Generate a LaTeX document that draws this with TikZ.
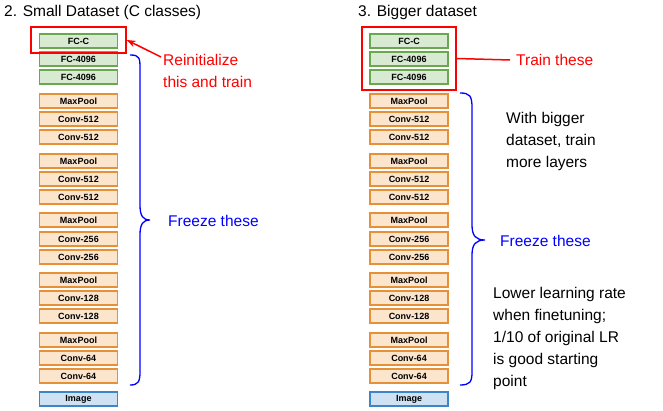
\documentclass[tikz,border=0pt]{standalone}
\usepackage{fontspec}
\setmainfont{Liberation Sans}
\usetikzlibrary{arrows.meta}
\definecolor{gf}{HTML}{D9EAD3}\definecolor{gd}{HTML}{6AA84F}
\definecolor{of}{HTML}{FCE5CD}\definecolor{od}{HTML}{E69138}
\definecolor{bf}{HTML}{CFE2F3}\definecolor{bd}{HTML}{3D85C6}
\begin{document}
\begin{tikzpicture}[x=1pt,y=-1pt,
 lay/.style={draw,line width=1.2pt,minimum width=78pt,minimum height=14pt,inner sep=0pt,font=\bfseries\fontsize{9}{10}\selectfont},
 g/.style={lay,fill=gf,draw=gd},o/.style={lay,fill=of,draw=od},b/.style={lay,fill=bf,draw=bd},
 lbl/.style={font=\fontsize{15.5}{22}\selectfont,align=left,anchor=north west,inner sep=0pt}]
\useasboundingbox (0,0) rectangle (663,411);
\foreach \s/\x in {L/78.5,R/409}{
 \node[g] (\s1) at (\x,41) {FC-C};
 \node[g] (\s2) at (\x,59) {FC-4096};
 \node[g] (\s3) at (\x,77) {FC-4096};
 \foreach \n/\y/\t in {4/101/MaxPool,5/119/Conv-512,6/137/Conv-512,7/161/MaxPool,8/179/Conv-512,9/197/Conv-512,10/220/MaxPool,11/239/Conv-256,12/257/Conv-256,13/280/MaxPool,14/298/Conv-128,15/316/Conv-128,16/340/MaxPool,17/358/Conv-64,18/376/Conv-64}
  \node[o] (\s\n) at (\x,\y) {\t};
 \node[b] (\s19) at (\x,399) {Image};
}
\node[draw=red,line width=1.5pt,minimum width=95pt,minimum height=26pt] (redL) at (78.5,40) {};
\node[draw=red,line width=1.5pt,minimum width=94pt,minimum height=63pt] (redR) at (409,58.5) {};
\node[lbl,anchor=west] (t1) at (4,12) {2. Small Dataset (C classes)};
\node[lbl,anchor=west] (t2) at (358,12) {3. Bigger dataset};
\node[lbl,text=red] (re) at (163,54) {Reinitialize\\this and train};
\draw[red,line width=1.5pt,-{Stealth[length=9pt]}] ([shift={(-2,3)}]re.north west) -- (redL.east);
\node[lbl,text=red,anchor=west] (tr) at (516,60) {Train these};
\draw[red,line width=1.5pt] ([xshift=-6pt]tr.west) -- (redR.east);
\draw[blue,line width=1.3pt] (130,55) .. controls (140,55) and (140,58) .. (140,70) -- (140,205) .. controls (140,216) and (143,220) .. (150,220) .. controls (143,220) and (140,224) .. (140,235) -- (140,372) .. controls (140,382) and (138,385) .. (130,385);
\draw[blue,line width=1.3pt] (460,93) .. controls (470,93) and (472,96) .. (472,108) -- (472,225) .. controls (472,236) and (476,240) .. (485,240) .. controls (476,240) and (472,244) .. (472,255) -- (472,372) .. controls (472,382) and (470,385) .. (460,385);
\node[lbl,text=blue,anchor=west] (fL) at (168,221) {Freeze these};
\node[lbl,text=blue,anchor=west] (fR) at (500,241) {Freeze these};
\node[lbl] (w) at (506,112) {With bigger\\dataset, train\\more layers};
\node[lbl] (lo) at (493,287) {Lower learning rate\\when finetuning;\\1/10 of original LR\\is good starting\\point};
\end{tikzpicture}
\end{document}
